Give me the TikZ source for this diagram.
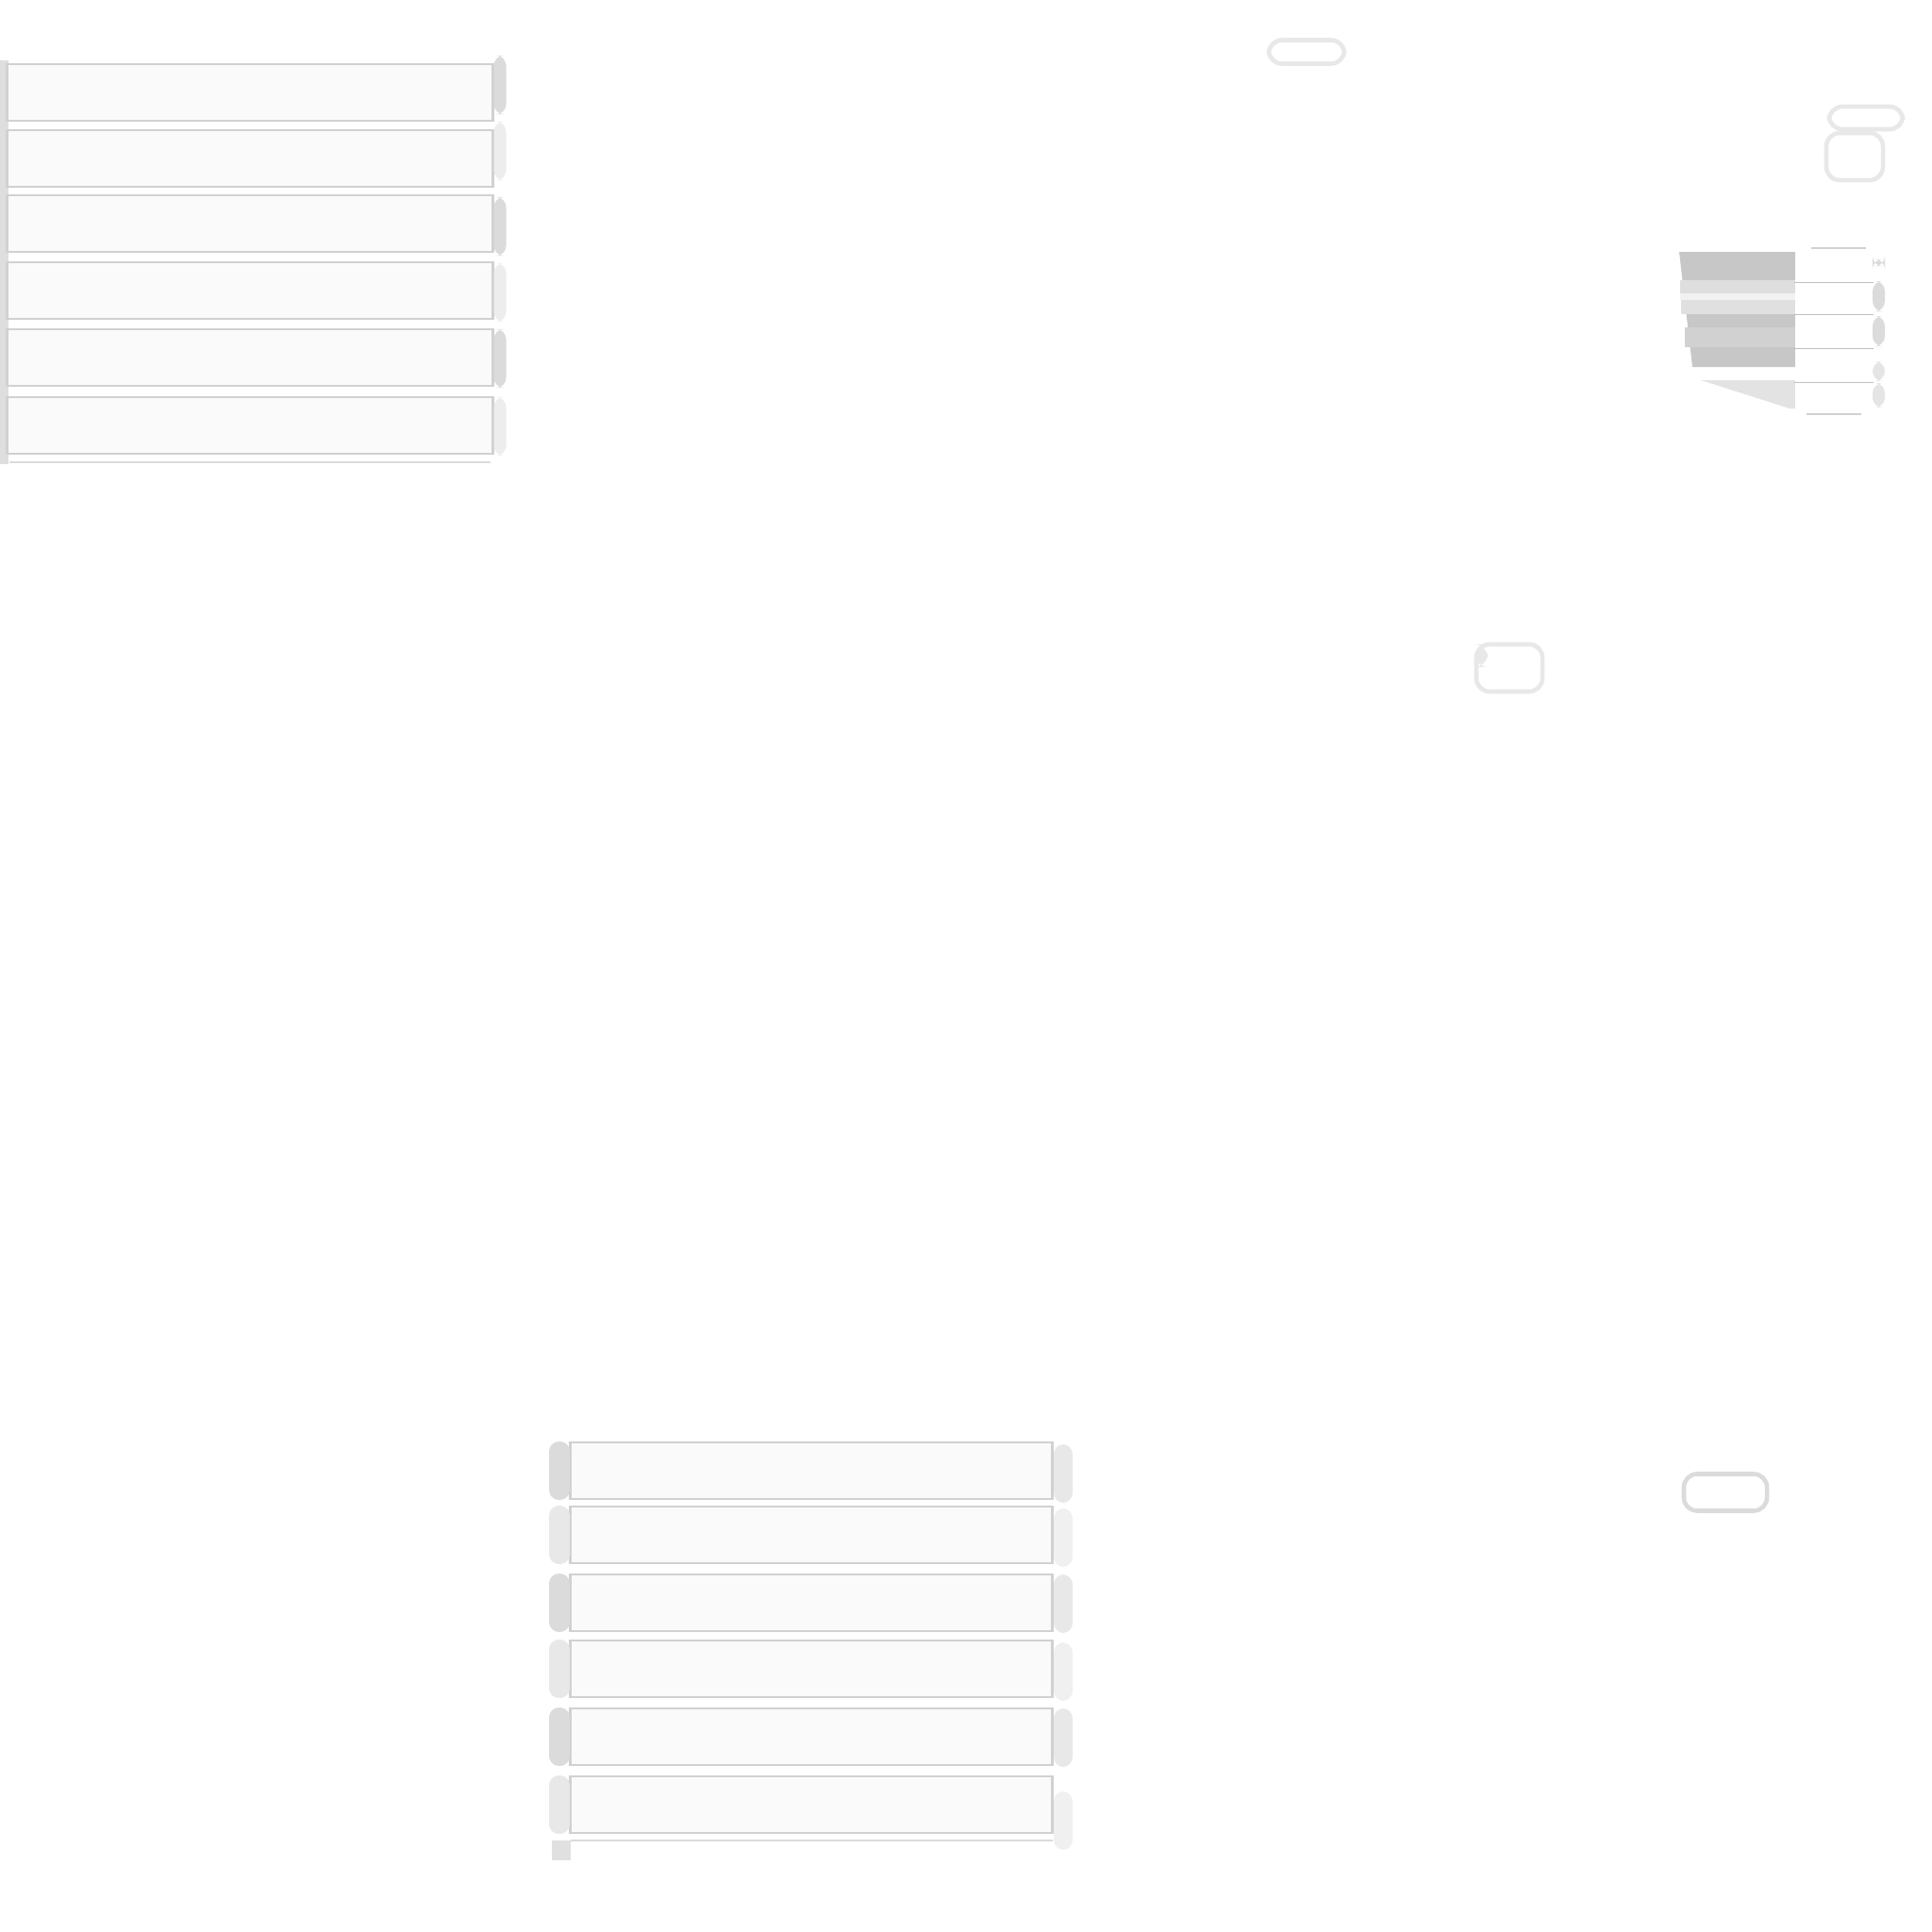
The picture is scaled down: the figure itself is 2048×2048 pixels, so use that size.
\documentclass[tikz,border=0pt]{standalone}
\usetikzlibrary{positioning}
\begin{document}
\begin{tikzpicture}[x=0.01cm, y=-0.01cm, thick]


\tikzstyle{slab} = [
    rectangle, draw=black!18, fill=black!2, line width=0.7pt, inner sep=0pt, minimum height=0.6cm]
\tikzstyle{edgestrip} = [
    rectangle, rounded corners=3pt, fill=black!14, inner sep=0pt, minimum width=0.13cm, minimum height=0.62cm]
\tikzstyle{ghost} = [
    rectangle, rounded corners=4pt, draw=black!9, line width=1.3pt, inner sep=0pt]
\tikzstyle{cell} = [
    rectangle, fill=white, inner sep=0pt, minimum width=0.82cm, minimum height=0.36cm]

\useasboundingbox (0,0) rectangle (2048,2048);

% top left stack
\fill[black!13] (0,64) rectangle (9,492);
\node[slab, minimum width=5.15cm] at (265,98) (topa) {};
\node[slab, minimum width=5.15cm] at (265,168) (topb) {};
\node[slab, minimum width=5.15cm] at (265,237) (topc) {};
\node[slab, minimum width=5.15cm] at (265,308) (topd) {};
\node[slab, minimum width=5.15cm] at (265,379) (tope) {};
\node[slab, minimum width=5.15cm] at (265,451) (topf) {};
\draw[black!14, line width=0.7pt] (10,490) -- (520,490);

\node[edgestrip] at (530,90) (topra) {};
\node[edgestrip, fill=black!7] at (530,160) (toprb) {};
\node[edgestrip] at (530,240) (toprc) {};
\node[edgestrip, fill=black!7] at (530,310) (toprd) {};
\node[edgestrip] at (530,380) (topre) {};
\node[edgestrip, fill=black!7] at (530,452) (toprf) {};

% bottom stack
\node[slab, minimum width=5.11cm] at (860,1559) (bota) {};
\node[slab, minimum width=5.11cm] at (860,1627) (botb) {};
\node[slab, minimum width=5.11cm] at (860,1699) (botc) {};
\node[slab, minimum width=5.11cm] at (860,1769) (botd) {};
\node[slab, minimum width=5.11cm] at (860,1841) (bote) {};
\node[slab, minimum width=5.11cm] at (860,1913) (botf) {};
\draw[black!14, line width=0.7pt] (605,1951) -- (1116,1951);

\node[edgestrip, minimum width=0.22cm] at (593,1559) (botla) {};
\node[edgestrip, minimum width=0.22cm, fill=black!9] at (593,1627) (botlb) {};
\node[edgestrip, minimum width=0.22cm] at (593,1699) (botlc) {};
\node[edgestrip, minimum width=0.22cm, fill=black!9] at (593,1769) (botld) {};
\node[edgestrip, minimum width=0.22cm] at (593,1841) (botle) {};
\node[edgestrip, minimum width=0.22cm, fill=black!9] at (593,1913) (botlf) {};
\fill[black!12] (585,1951) rectangle (605,1972);

\node[edgestrip, minimum width=0.2cm, fill=black!9] at (1127,1562) (botra) {};
\node[edgestrip, minimum width=0.2cm, fill=black!6] at (1127,1630) (botrb) {};
\node[edgestrip, minimum width=0.2cm, fill=black!9] at (1127,1700) (botrc) {};
\node[edgestrip, minimum width=0.2cm, fill=black!6] at (1127,1772) (botrd) {};
\node[edgestrip, minimum width=0.2cm, fill=black!9] at (1127,1842) (botre) {};
\node[edgestrip, minimum width=0.2cm, fill=black!6] at (1127,1930) (botrf) {};

% banded block, top right
\fill[black!22] (1780,267) -- (1903,267) -- (1903,389) -- (1794,389) -- cycle;
\fill[black!13] (1781,297) rectangle (1903,311);
\fill[black!5] (1781,311) rectangle (1903,318);
\fill[black!12] (1782,318) rectangle (1903,333);
\fill[black!18] (1786,347) rectangle (1903,368);
\fill[black!11] (1803,403) -- (1903,403) -- (1903,433) -- (1897,433) -- cycle;

\node[cell] at (1944,280) (cella) {};
\node[cell] at (1944,314) (cellb) {};
\node[cell] at (1944,350) (cellc) {};
\node[cell] at (1944,386) (celld) {};
\node[cell] at (1944,421) (celle) {};
\draw[black!18, line width=0.5pt] (1920,263) -- (1978,263);
\foreach \c in {cella,cellb,cellc,celld}
  \draw[black!25, line width=0.5pt] (\c.south west) -- (\c.south east);
\draw[black!18, line width=0.5pt] (1915,439) -- (1973,439);
\fill[black!14, rounded corners=3pt] (1985,275) rectangle (1998,282);
\fill[black!14, rounded corners=3pt] (1985,298) rectangle (1998,330);
\fill[black!14, rounded corners=3pt] (1985,335) rectangle (1998,367);
\fill[black!10, rounded corners=3pt] (1985,383) rectangle (1998,404);
\fill[black!10, rounded corners=3pt] (1985,406) rectangle (1998,432);

% faint fragments
\node[ghost, minimum width=0.8cm, minimum height=0.25cm] at (1385,55) (fragtop) {};
\node[ghost, minimum width=0.78cm, minimum height=0.24cm] at (1978,125) (fragrighta) {};
\node[ghost, minimum width=0.6cm, minimum height=0.5cm] at (1966,166) (fragrightb) {};
\node[ghost, minimum width=0.7cm, minimum height=0.5cm] at (1600,708) (fragmid) {};
\fill[black!9, rounded corners=4pt] (1563,683) rectangle (1577,707);
\node[ghost, draw=black!14, minimum width=0.88cm, minimum height=0.39cm] at (1829,1582) (fragbot) {};


\end{tikzpicture}
\end{document}
